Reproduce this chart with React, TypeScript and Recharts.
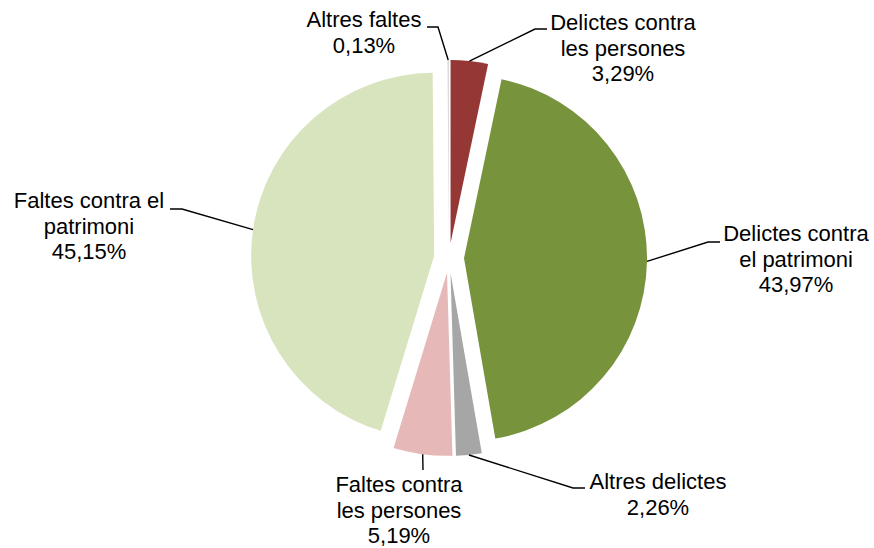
import { PieChart, Pie, Cell, Sector } from 'recharts';

const categories = [
  'Delictes contra les persones',
  'Delictes contra el patrimoni',
  'Altres delictes',
  'Faltes contra les persones',
  'Faltes contra el patrimoni',
  'Altres faltes',
];
const shares = [3.29, 43.97, 2.26, 5.19, 45.15, 0.13];
const shareText = ['3,29%', '43,97%', '2,26%', '5,19%', '45,15%', '0,13%'];
const nameLines = [
  ['Delictes contra', 'les persones'],
  ['Delictes contra', 'el patrimoni'],
  ['Altres delictes'],
  ['Faltes contra', 'les persones'],
  ['Faltes contra el', 'patrimoni'],
  ['Altres faltes'],
];

const fills = ['#953735', '#77933C', '#A6A6A6', '#E6B9B8', '#D7E4BD', '#D9D9D9'];

// where each label sits: text centre, first baseline, leader elbow + end
const labelLayout = [
  { tx: 623, ty: 30, elbow: [535, 29], end: [547, 29] },
  { tx: 796, ty: 241, elbow: [708, 242], end: [720, 242] },
  { tx: 658, ty: 489, elbow: [573, 488], end: [585, 488] },
  { tx: 399, ty: 492, elbow: null, end: [423, 470] },
  { tx: 89, ty: 208, elbow: [182, 209], end: [170, 209] },
  { tx: 364, ty: 27, elbow: [438, 27], end: [427, 27] },
];

const data = categories.map((name, i) => ({ name, value: shares[i] }));

const EXPLODE = 15;
const RAD = Math.PI / 180;
const LINE_H = 25.5;

const renderSlice = (props: any) => {
  const { cx, cy, midAngle, innerRadius, outerRadius, startAngle, endAngle, fill } = props;
  const a = -midAngle * RAD;
  return (
    <Sector
      cx={cx + EXPLODE * Math.cos(a)}
      cy={cy + EXPLODE * Math.sin(a)}
      innerRadius={innerRadius}
      outerRadius={outerRadius}
      startAngle={startAngle}
      endAngle={endAngle}
      fill={fill}
      stroke="none"
    />
  );
};

const renderLabel = (props: any) => {
  const { cx, cy, midAngle, outerRadius, index } = props;
  const a = -midAngle * RAD;
  const sx = cx + (outerRadius + EXPLODE) * Math.cos(a);
  const sy = cy + (outerRadius + EXPLODE) * Math.sin(a);
  const lay = labelLayout[index];
  const pts = [[sx, sy]];
  if (lay.elbow) pts.push(lay.elbow);
  pts.push(lay.end);
  const lines = [...nameLines[index], shareText[index]];
  return (
    <g key={`lbl-${index}`}>
      <polyline
        points={pts.map((p) => p.join(',')).join(' ')}
        fill="none"
        stroke="#000"
        strokeWidth={1.4}
      />
      <text
        x={lay.tx}
        y={lay.ty}
        textAnchor="middle"
        fill="#000"
        fontSize={22}
        fontFamily="'Liberation Sans', Arial, sans-serif"
      >
        {lines.map((t, j) => (
          <tspan key={j} x={lay.tx} y={lay.ty + j * LINE_H}>
            {t}
          </tspan>
        ))}
      </text>
    </g>
  );
};

export default function App() {
  return (
    <div style={{ position: 'absolute', left: 0, top: 0, width: 874, height: 548, background: '#fff' }}>
      <PieChart width={874} height={548} margin={{ top: 0, right: 0, bottom: 0, left: 0 }}>
        <Pie
          data={data}
          dataKey="value"
          nameKey="name"
          cx={449}
          cy={258}
          outerRadius={183}
          startAngle={90}
          endAngle={-270}
          stroke="none"
          shape={renderSlice}
          label={renderLabel}
          labelLine={false}
          isAnimationActive={false}
        >
          {data.map((d, i) => (
            <Cell key={d.name} fill={fills[i]} />
          ))}
        </Pie>
      </PieChart>
    </div>
  );
}
